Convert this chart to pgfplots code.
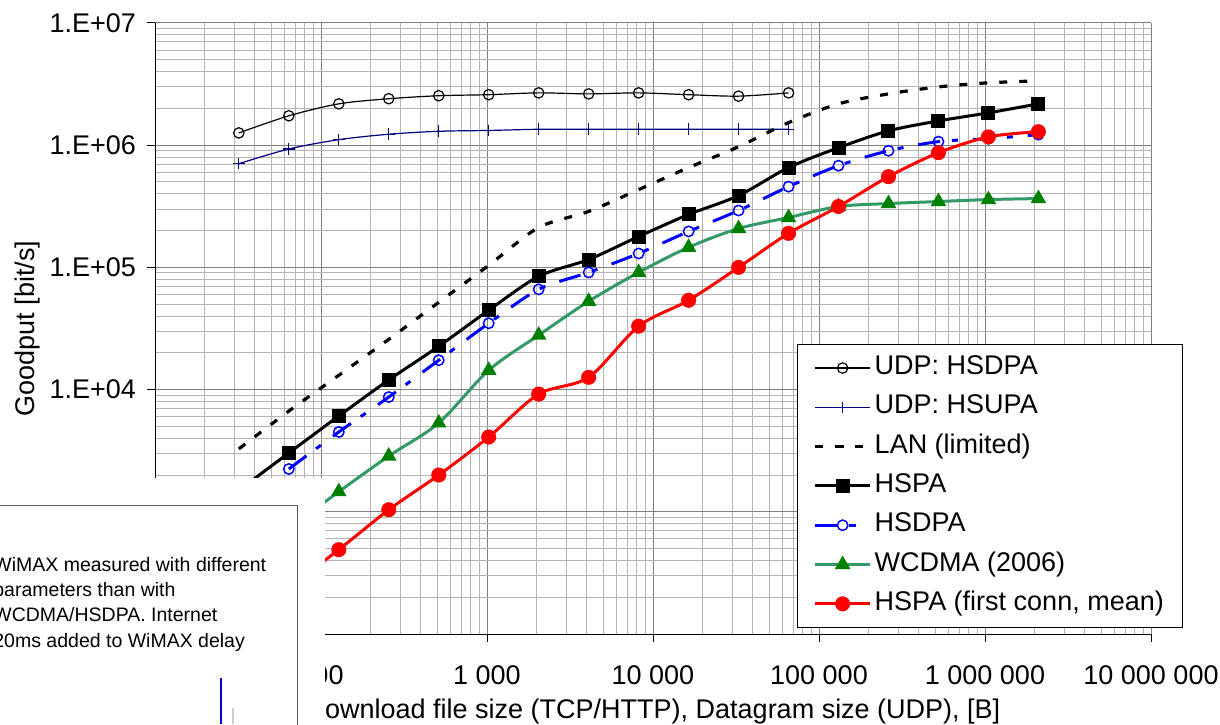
\documentclass[border=0pt]{standalone}
\usepackage{fontspec}
\setmainfont{Liberation Sans}
\usepackage{pgfplots}
\pgfplotsset{compat=1.18}
\definecolor{navyudp}{RGB}{0,0,128}
\definecolor{hsdpablue}{RGB}{0,0,255}
\definecolor{wline}{RGB}{51,153,102}
\definecolor{wmark}{RGB}{0,128,0}
\definecolor{majgrid}{RGB}{128,128,128}
\definecolor{mingrid}{RGB}{180,180,180}
\begin{document}
\begin{tikzpicture}[font=\fontsize{13.5}{16}\selectfont]
\useasboundingbox (0,0) rectangle (610pt,362pt);
\begin{scope}
\clip (0,0) rectangle (610pt,362pt);
\begin{axis}[
  at={(77.5pt,45pt)}, anchor=south west,
  scale only axis, width=498pt, height=305.5pt,
  xmode=log, ymode=log,
  xmin=10, xmax=1e7, ymin=100, ymax=1e7,
  axis lines=left, axis line style={-, black, line width=0.5pt},
  xtick={10,100,1000,10000,100000,1000000,10000000},
  xticklabels={10,100,1 000,10 000,100 000,1 000 000,10 000 000},
  ytick={100,1000,10000,100000,1000000,10000000},
  yticklabels={1.E+02,1.E+03,1.E+04,1.E+05,1.E+06,1.E+07},
  minor xtick={20,30,40,50,60,70,80,90,200,300,400,500,600,700,800,900,2000,3000,4000,5000,6000,7000,8000,9000,2e4,3e4,4e4,5e4,6e4,7e4,8e4,9e4,2e5,3e5,4e5,5e5,6e5,7e5,8e5,9e5,2e6,3e6,4e6,5e6,6e6,7e6,8e6,9e6},
  minor ytick={200,300,400,500,600,700,800,900,2000,3000,4000,5000,6000,7000,8000,9000,2e4,3e4,4e4,5e4,6e4,7e4,8e4,9e4,2e5,3e5,4e5,5e5,6e5,7e5,8e5,9e5,2e6,3e6,4e6,5e6,6e6,7e6,8e6,9e6},
  grid=both,
  major grid style={majgrid, line width=0.5pt},
  minor grid style={mingrid, line width=0.5pt},
  tick align=outside, major tick length=4pt, minor tick length=0pt,
  tick style={black, line width=0.5pt},
  /pgf/number format/assume math mode=true,
  tick label style={font=\fontsize{13.5}{16}\selectfont},
  xticklabel style={anchor=base, yshift=-21.5pt},
  yticklabel style={anchor=east, inner sep=0pt, xshift=-5.3pt},
  xlabel={Download file size (TCP/HTTP), Datagram size (UDP), [B]},
  xlabel style={at={(axis description cs:0.5,-0.139)}, anchor=base},
  ylabel={Goodput [bit/s]},
  ylabel style={at={(axis description cs:-0.1275,0.5)}, anchor=center},
  legend style={at={(0.6446,0.4746)}, anchor=north west, draw=black, line width=0.5pt, fill=white,
    inner xsep=8pt, inner ysep=4pt, row sep=4.15pt, cells={anchor=west},
    nodes={inner sep=1.5pt, text height=9.5pt, text depth=3pt},
    font=\fontsize{13.5}{16}\selectfont},
  legend image code/.code={\draw[mark repeat=2,mark phase=2] plot coordinates {(0pt,0pt) (13.75pt,0pt) (27.5pt,0pt)};},
]
% UDP: HSDPA
\addplot[black, line width=0.6pt, smooth, mark=o, mark size=2.6pt, mark options={solid, line width=0.6pt}] coordinates {
(32,1.26e6) (64,1.74e6) (128,2.18e6) (256,2.40e6) (512,2.54e6) (1024,2.59e6) (2048,2.68e6) (4096,2.63e6) (8192,2.68e6) (16384,2.59e6) (32768,2.52e6) (65536,2.68e6)};
\addlegendentry{UDP: HSDPA}
% UDP: HSUPA
\addplot[navyudp, line width=0.6pt, smooth, mark=+, mark size=2.9pt, mark options={solid, line width=0.6pt}] coordinates {
(32,7.06e5) (64,9.31e5) (128,1.11e6) (256,1.23e6) (512,1.30e6) (1024,1.32e6) (2048,1.35e6) (4096,1.35e6) (8192,1.35e6) (16384,1.35e6) (32768,1.35e6) (65536,1.35e6)};
\addlegendentry{UDP: HSUPA}
% LAN (limited)
\addplot[black, line width=1.6pt, smooth, dash pattern=on 4pt off 6pt] coordinates {
(32,3.27e3) (64,6.67e3) (128,1.31e4) (256,2.58e4) (512,5.18e4) (1024,1.04e5) (2048,2.12e5) (4096,2.87e5) (8192,4.33e5) (16384,6.56e5) (32768,9.72e5) (65536,1.53e6) (131072,2.18e6) (262144,2.63e6) (524288,3.0e6) (1048576,3.24e6) (2097152,3.36e6)};
\addlegendentry{LAN (limited)}
% HSPA
\addplot[black, line width=1.5pt, smooth, mark=square*, mark size=2.75pt, mark options={solid}] coordinates {
(32,1.5e3) (64,3.03e3) (128,6.08e3) (256,1.2e4) (512,2.26e4) (1024,4.46e4) (2048,8.45e4) (4096,1.16e5) (8192,1.79e5) (16384,2.71e5) (32768,3.87e5) (65536,6.56e5) (131072,9.54e5) (262144,1.31e6) (524288,1.58e6) (1048576,1.84e6) (2097152,2.18e6)};
\addlegendentry{HSPA}
% HSDPA
\addplot[hsdpablue, line width=1.5pt, smooth, dash pattern=on 11pt off 6pt on 3pt off 7.5pt, mark=o, mark size=2.6pt, mark options={solid, line width=0.75pt, fill=white}] coordinates {
(64,2.24e3) (128,4.5e3) (256,8.69e3) (512,1.74e4) (1024,3.49e4) (2048,6.61e4) (4096,9.1e4) (8192,1.30e5) (16384,1.97e5) (32768,2.92e5) (65536,4.58e5) (131072,6.8e5) (262144,9.0e5) (524288,1.07e6) (1048576,1.13e6) (2097152,1.22e6)};
\addlegendentry{HSDPA}
% WCDMA (2006)
\addplot[wline, line width=1.5pt, smooth, mark=triangle*, mark size=3pt, mark options={solid, fill=wmark, draw=wmark}] coordinates {
(64,7.3e2) (128,1.46e3) (256,2.86e3) (512,5.33e3) (1024,1.44e4) (2048,2.79e4) (4096,5.28e4) (8192,9.1e4) (16384,1.46e5) (32768,2.08e5) (65536,2.56e5) (131072,3.15e5) (262144,3.33e5) (524288,3.46e5) (1048576,3.59e5) (2097152,3.66e5)};
\addlegendentry{WCDMA (2006)}
% HSPA (first conn, mean)
\addplot[red, line width=1.5pt, smooth, mark=*, mark size=3pt, mark options={solid, fill=red}] coordinates {
(64,2.4e2) (128,4.9e2) (256,1.04e3) (512,2.0e3) (1024,4.09e3) (2048,9.19e3) (4096,1.26e4) (8192,3.3e4) (16384,5.38e4) (32768,1.0e5) (65536,1.9e5) (131072,3.15e5) (262144,5.53e5) (524288,8.68e5) (1048576,1.17e6) (2097152,1.29e6)};
\addlegendentry{HSPA (first conn, mean)}
\end{axis}
% overlaid picture in the lower left corner
\fill[white] (-1pt,-1pt) rectangle (162.5pt,123pt);
\draw[gray!75!black, line width=0.5pt, fill=white] (-3pt,-3pt) rectangle (148.75pt,109.5pt);
\begin{scope}[every node/.style={anchor=base west, inner sep=0pt, font=\fontsize{9.75}{12}\selectfont}]
\node at (-3.5pt,76.5pt) {WiMAX measured with different};
\node at (-3.5pt,63.85pt) {parameters than with};
\node at (-3.5pt,51.2pt) {WCDMA/HSDPA. Internet};
\node at (-3.5pt,38.5pt) {20ms added to WiMAX delay};
\end{scope}
\draw[blue!80!black, line width=0.6pt] (110.5pt,0) -- (110.5pt,23pt);
\draw[gray!40, line width=0.6pt] (116.5pt,0) -- (116.5pt,8pt);
\end{scope}
\end{tikzpicture}
\end{document}
